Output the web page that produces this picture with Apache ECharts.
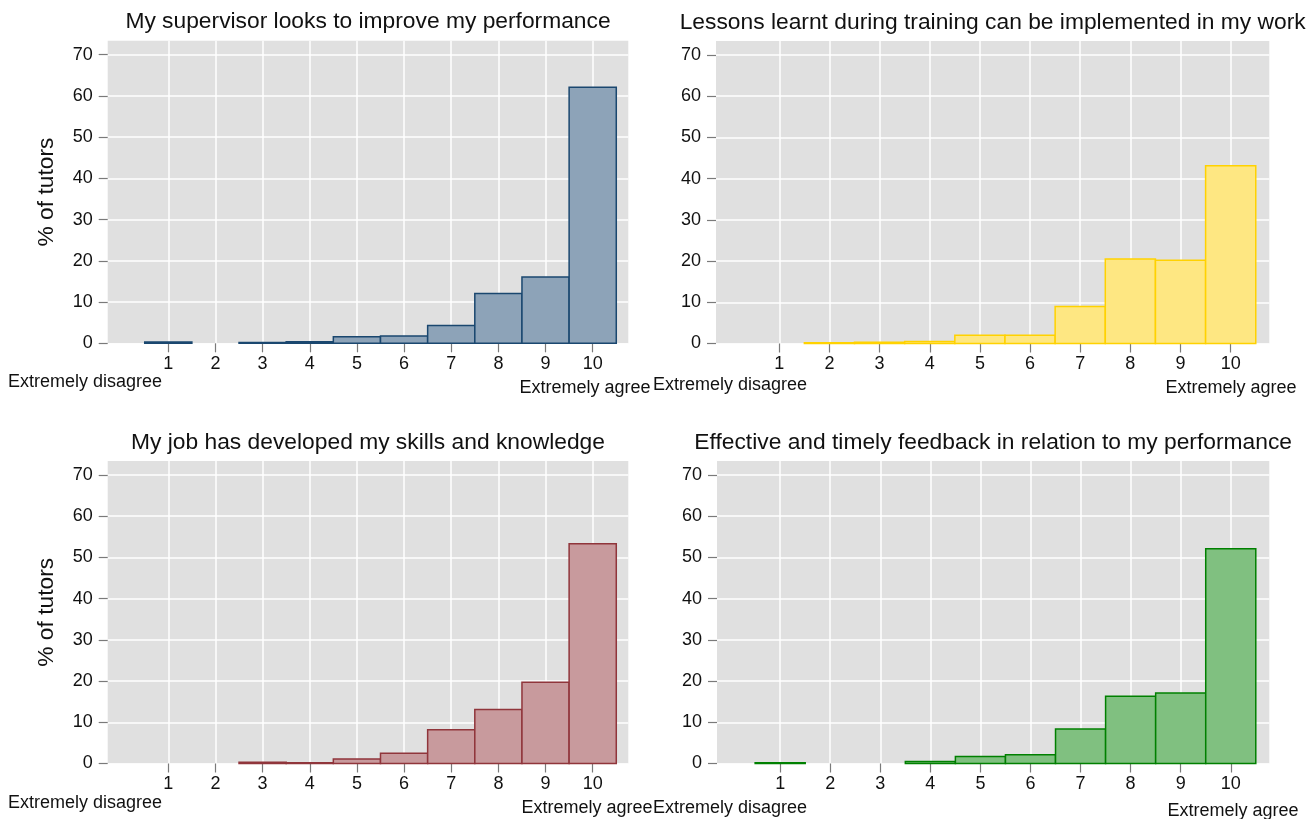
<!DOCTYPE html>
<html><head><meta charset="utf-8">
<script src="https://cdn.jsdelivr.net/npm/echarts@6/dist/echarts.min.js"></script>
<style>html,body{margin:0;padding:0;background:#fff}#c{width:1309px;height:819px}</style>
</head><body><div id="c"></div>
<script>
// ---- data ----
const scores = [1, 2, 3, 4, 5, 6, 7, 8, 9, 10];
const supervisorPct = [0.3, 0, 0.2, 0.4, 1.6, 1.8, 4.3, 12.1, 16.1, 62.1];
const lessonsPct    = [0, 0.2, 0.3, 0.5, 2.0, 2.0, 9.0, 20.5, 20.2, 43.1];
const jobPct        = [0, 0, 0.3, 0.2, 1.1, 2.5, 8.2, 13.1, 19.7, 53.3];
const feedbackPct   = [0.2, 0, 0, 0.5, 1.7, 2.1, 8.4, 16.3, 17.1, 52.1];
const yTicks = [0, 10, 20, 30, 40, 50, 60, 70];
const titleSupervisor = 'My supervisor looks to improve my performance';
const titleLessons = 'Lessons learnt during training can be implemented in my work';
const titleJob = 'My job has developed my skills and knowledge';
const titleFeedback = 'Effective and timely feedback in relation to my performance';
const yAxisTitle = '% of tutors';
const lowLabel = 'Extremely disagree';
const highLabel = 'Extremely agree';

// ---- layout / style ----
const FONT = '"Liberation Sans", Arial, Helvetica, sans-serif';
const panels = [
  {title: titleSupervisor, values: supervisorPct, fill: '#8da3b8', stroke: '#1a476f',
   left: 107.7, top: 40.7, width: 520.6, height: 302.6, xmin: -0.285, xmax: 10.755, yName: true,
   low: {x: 8, y: 382}, high: {x: 585, y: 388}},
  {title: titleLessons, values: lessonsPct, fill: '#fee782', stroke: '#ffd200',
   left: 716, top: 41, width: 553.3, height: 302.5, xmin: -0.262, xmax: 10.77, yName: false,
   low: {x: 653, y: 385.5}, high: {x: 1231, y: 388}},
  {title: titleJob, values: jobPct, fill: '#c89a9d', stroke: '#90353b',
   left: 107.7, top: 461, width: 520.6, height: 302.5, xmin: -0.285, xmax: 10.755, yName: true,
   low: {x: 8, y: 803}, high: {x: 587, y: 808}},
  {title: titleFeedback, values: feedbackPct, fill: '#80c080', stroke: '#008000',
   left: 717, top: 461, width: 552.3, height: 302.5, xmin: -0.262, xmax: 10.77, yName: false,
   low: {x: 653, y: 808.5}, high: {x: 1233, y: 811}}
];

const grid = [], xAxis = [], yAxis = [], series = [], graphic = [];
panels.forEach((p, i) => {
  grid.push({left: p.left, top: p.top, width: p.width, height: p.height,
    show: true, backgroundColor: '#e0e0e0', borderWidth: 0, containLabel: false});
  xAxis.push({type: 'value', gridIndex: i, min: p.xmin, max: p.xmax, position: 'bottom',
    axisLine: {show: false, onZero: false},
    axisTick: {show: true, customValues: scores, length: 9, lineStyle: {color: '#7a7a7a', width: 1.2}},
    axisLabel: {customValues: scores, fontSize: 18, color: '#111', margin: 12, fontFamily: FONT},
    splitLine: {show: true, lineStyle: {color: '#ffffff', width: 1.5}}});
  yAxis.push({type: 'value', gridIndex: i, min: 0, max: 73.4, position: 'left',
    name: p.yName ? yAxisTitle : '', nameLocation: 'middle', nameGap: 49,
    nameTextStyle: {fontSize: 22.8, color: '#111', fontFamily: FONT},
    axisLine: {show: false, onZero: false},
    axisTick: {show: true, customValues: yTicks, length: 9, lineStyle: {color: '#7a7a7a', width: 1.2}},
    axisLabel: {customValues: yTicks, fontSize: 18, color: '#111', margin: 15, fontFamily: FONT},
    splitLine: {show: true, lineStyle: {color: '#ffffff', width: 1.5}}});
  series.push({type: 'custom', xAxisIndex: i, yAxisIndex: i,
    data: scores.map((s, k) => [s, p.values[k]]),
    encode: {x: 0, y: 1},
    renderItem: function (params, api) {
      const x = api.value(0), v = api.value(1);
      if (!v) return null;
      const a = api.coord([x - 0.5, v]);
      const b = api.coord([x + 0.5, 0]);
      return {type: 'rect',
        shape: {x: a[0], y: a[1], width: b[0] - a[0], height: b[1] - a[1]},
        style: {fill: p.fill, stroke: p.stroke, lineWidth: 1.5}};
    }});
  graphic.push({type: 'text', x: p.left + p.width / 2, y: p.top - 18.5,
    style: {text: p.title, fontSize: 22.8, fontFamily: FONT, fill: '#111', align: 'center', verticalAlign: 'middle'}});
  graphic.push({type: 'text', x: p.low.x, y: p.low.y,
    style: {text: lowLabel, fontSize: 18, fontFamily: FONT, fill: '#111', align: 'left', verticalAlign: 'middle'}});
  graphic.push({type: 'text', x: p.high.x, y: p.high.y,
    style: {text: highLabel, fontSize: 18, fontFamily: FONT, fill: '#111', align: 'center', verticalAlign: 'middle'}});
});

const chart = echarts.init(document.getElementById('c'), null, {renderer: 'canvas'});
chart.setOption({animation: false, backgroundColor: '#ffffff', grid, xAxis, yAxis, series, graphic});
</script></body></html>
